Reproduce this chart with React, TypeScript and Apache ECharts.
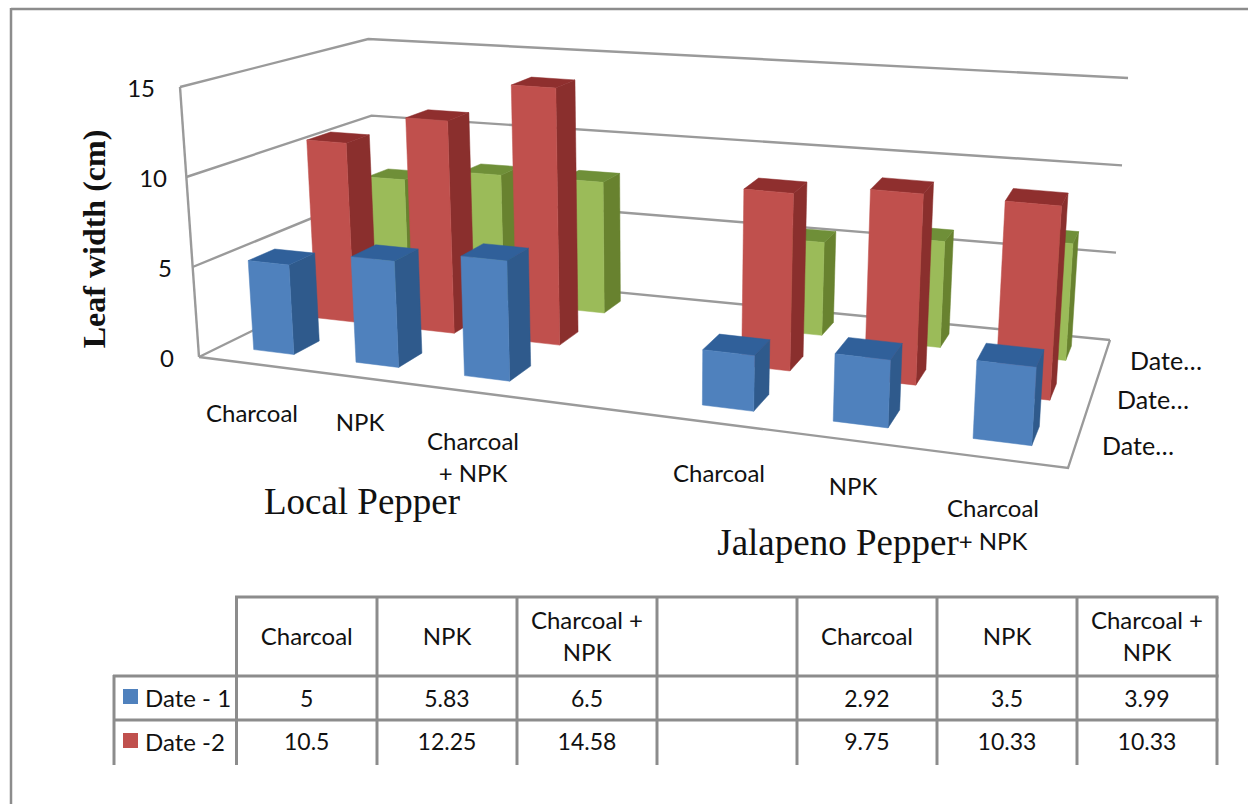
import React, { useEffect, useRef } from "react";
import * as echarts from "echarts";

const categories = ["Charcoal", "NPK", "Charcoal + NPK", "", "Charcoal", "NPK", "Charcoal + NPK"];
const date1 = [5, 5.83, 6.5, null, 2.92, 3.5, 3.99];
const date2 = [10.5, 12.25, 14.58, null, 9.75, 10.33, 10.33];
const date3 = [7, 7.75, 7.8, null, 5.35, 6.0, 6.5];
const yTicks = [0, 5, 10, 15];
const rowNames = ["Date - 1", "Date -2"];
const tableHeaders = ["Charcoal", "NPK", "Charcoal +\nNPK", "", "Charcoal", "NPK", "Charcoal +\nNPK"];

const BLUE = { front: "#4f81bd", side: "#2f5a8c", top: "#30609a" };
const RED = { front: "#c0504d", side: "#8a2f2d", top: "#8f2f2e" };
const GREEN = { front: "#9bbb59", side: "#68822f", top: "#6f8f38" };

const GRID = { left: 199, top: 87, width: 869, height: 270 };
const BASE = [[199, 357], [1068, 468], [1110, 340], [378, 269]];
const HEIGHTS = [270, 300, 262, 230];
const VANISH = [659, 6895];
const DEPTH = 0.133;
const U_SHIFT = 0.003;

function homography(q: number[][]) {
  const [[x0, y0], [x1, y1], [x2, y2], [x3, y3]] = q;
  const dx1 = x1 - x2, dx2 = x3 - x2, sx = x0 - x1 + x2 - x3;
  const dy1 = y1 - y2, dy2 = y3 - y2, sy = y0 - y1 + y2 - y3;
  const den = dx1 * dy2 - dx2 * dy1;
  const g = (sx * dy2 - dx2 * sy) / den;
  const h = (dx1 * sy - sx * dy1) / den;
  const a = x1 - x0 + g * x1, b = x3 - x0 + h * x3;
  const d = y1 - y0 + g * y1, e = y3 - y0 + h * y3;
  return (u: number, w: number) => {
    const n = g * u + h * w + 1;
    return [(a * u + b * w + x0) / n, (d * u + e * w + y0) / n];
  };
}
const hBase = homography(BASE);
// u: 0..1 along the category axis, w: 0..1 along depth, v: 0..1 of the value axis
function project(u: number, v: number, w: number) {
  const p = hBase(u, w);
  const H =
    HEIGHTS[0] * (1 - u) * (1 - w) + HEIGHTS[1] * u * (1 - w) + HEIGHTS[2] * u * w + HEIGHTS[3] * (1 - u) * w;
  const dy = -v * H;
  return [p[0] + ((VANISH[0] - p[0]) * dy) / (VANISH[1] - p[1]), p[1] + dy];
}

function barSeries(name: string, values: (number | null)[], wFront: number, colors: typeof BLUE, z: number) {
  return {
    type: "custom",
    name,
    z,
    coordinateSystem: "cartesian2d",
    clip: false,
    data: values.map((v, i) => (v === null ? null : [i, v])).filter((d) => d !== null),
    renderItem: (_: any, api: any) => {
      const c = api.coord([api.value(0), api.value(1)]);
      const halfWidth = (api.size([1, 0])[0] * 0.2) / GRID.width;
      const u = (c[0] - GRID.left) / GRID.width + U_SHIFT;
      const v = (GRID.top + GRID.height - c[1]) / GRID.height;
      const u0 = u - halfWidth, u1 = u + halfWidth;
      const w0 = wFront, w1 = wFront + DEPTH;
      const poly = (pts: number[][], fill: string) => ({
        type: "polygon",
        shape: { points: pts },
        style: { fill, stroke: fill, lineWidth: 0.5 },
      });
      return {
        type: "group",
        children: [
          poly([project(u1, 0, w0), project(u1, 0, w1), project(u1, v, w1), project(u1, v, w0)], colors.side),
          poly([project(u0, v, w0), project(u1, v, w0), project(u1, v, w1), project(u0, v, w1)], colors.top),
          poly([project(u0, 0, w0), project(u1, 0, w0), project(u1, v, w0), project(u0, v, w0)], colors.front),
        ],
      };
    },
  };
}

const wallSeries = {
  type: "custom",
  name: "walls",
  z: 1,
  coordinateSystem: "cartesian2d",
  clip: false,
  data: yTicks.map((t) => [0, t]),
  renderItem: (_: any, api: any) => {
    const c = api.coord([api.value(0), api.value(1)]);
    const v = (GRID.top + GRID.height - c[1]) / GRID.height;
    const line = { stroke: "#9a9a9a", lineWidth: 2.4, fill: "none" };
    const children: any[] = [
      { type: "polyline", shape: { points: [project(0, v, 0), project(0, v, 1), project(1, v, 1)] }, style: line },
    ];
    if (api.value(1) === 0) {
      children.push({ type: "polyline", shape: { points: [project(0, 0, 0), project(1, 0, 0), project(1, 0, 1)] }, style: line });
      children.push({ type: "polyline", shape: { points: [project(0, 0, 0), project(0, 1, 0)] }, style: line });
    }
    return { type: "group", children };
  },
};

const SANS = "Lato, 'Noto Sans', sans-serif";
const SERIF = "'Liberation Serif', serif";
const LINE = "#8c8c8c";

function text(x: number, y: number, s: string, size = 24, align = "center", extra: any = {}) {
  return {
    type: "text",
    z: 10,
    style: { x, y, text: s, fontSize: size, fontFamily: SANS, fill: "#111", align, verticalAlign: "middle", lineHeight: 32, ...extra },
  };
}
function seg(x1: number, y1: number, x2: number, y2: number, lineWidth = 3) {
  return { type: "line", z: 9, shape: { x1, y1, x2, y2 }, style: { stroke: LINE, lineWidth } };
}

function graphics() {
  const xs = [236.5, 377, 517, 657, 797, 937, 1077, 1217];
  const out: any[] = [
    seg(11, 9, 1248, 9, 2.5),
    seg(11, 8, 11, 804, 2.5),
    seg(235, 597, 1218.5, 597),
    seg(113, 676, 1218.5, 676),
    seg(113, 720, 1218.5, 720),
    seg(114, 675, 114, 765),
  ];
  xs.forEach((x) => out.push(seg(x, 597, x, 765)));
  tableHeaders.forEach((h, i) => {
    const cx = (xs[i] + xs[i + 1]) / 2;
    if (h) out.push(text(cx, 635, h));
    if (date1[i] !== null) out.push(text(cx, 698, String(date1[i]), 23));
    if (date2[i] !== null) out.push(text(cx, 741, String(date2[i]), 23));
  });
  out.push({ type: "rect", z: 10, shape: { x: 123, y: 689, width: 15, height: 15 }, style: { fill: BLUE.front } });
  out.push({ type: "rect", z: 10, shape: { x: 123, y: 733, width: 15, height: 15 }, style: { fill: RED.front } });
  out.push(text(145, 697, rowNames[0], 24, "left"));
  out.push(text(145, 741, rowNames[1], 24, "left"));

  out.push(text(252, 412, "Charcoal"));
  out.push(text(360, 421, "NPK"));
  out.push(text(473, 456, "Charcoal\n+ NPK"));
  out.push(text(719, 472, "Charcoal"));
  out.push(text(853, 485, "NPK"));
  out.push(text(993, 507, "Charcoal"));
  out.push(text(993, 540, "+ NPK"));
  out.push(text(1166, 360, "Date…", 25));
  out.push(text(1153, 399, "Date…", 25));
  out.push(text(1138, 445, "Date…", 25));
  out.push(text(362, 501, "Local Pepper", 37, "center", { fontFamily: SERIF }));
  out.push(text(838, 542, "Jalapeno Pepper", 37, "center", { fontFamily: SERIF }));
  out.push({
    type: "text",
    z: 10,
    x: 94,
    y: 239,
    rotation: Math.PI / 2,
    style: { x: 0, y: 0, text: "Leaf width (cm)", fontSize: 32, fontWeight: "bold", fontFamily: SERIF, fill: "#111", align: "center", verticalAlign: "middle" },
  });
  return out;
}

const labelPad: Record<string, number> = { "0": 0, "5": 2, "10": 7, "15": 19 };

export default function App() {
  const ref = useRef<HTMLDivElement>(null);
  useEffect(() => {
    document.body.style.margin = "0";
    document.body.style.background = "#fff";
    const chart = echarts.init(ref.current!, undefined, { renderer: "svg" });
    chart.setOption({
      animation: false,
      backgroundColor: "#fff",
      grid: { left: GRID.left, top: GRID.top, width: GRID.width, height: GRID.height },
      xAxis: { type: "category", data: categories, show: false },
      yAxis: {
        type: "value",
        min: 0,
        max: 15,
        interval: 5,
        axisLine: { show: false },
        axisTick: { show: false },
        splitLine: { show: false },
        axisLabel: {
          margin: 25,
          formatter: (v: number) => `{p${v}|${v}}`,
          rich: Object.fromEntries(
            Object.entries(labelPad).map(([k, p]) => [
              `p${k}`,
              { fontSize: 24, fontFamily: SANS, color: "#111", padding: [0, p, 0, 0] },
            ])
          ),
        },
      },
      series: [
        wallSeries,
        barSeries("Date - 3", date3, 0.775, GREEN, 2),
        barSeries("Date -2", date2, 0.44, RED, 3),
        barSeries("Date - 1", date1, 0.11, BLUE, 4),
      ],
      graphic: graphics(),
    });
    return () => chart.dispose();
  }, []);
  return <div ref={ref} style={{ width: 1248, height: 804, overflow: "hidden" }} />;
}
